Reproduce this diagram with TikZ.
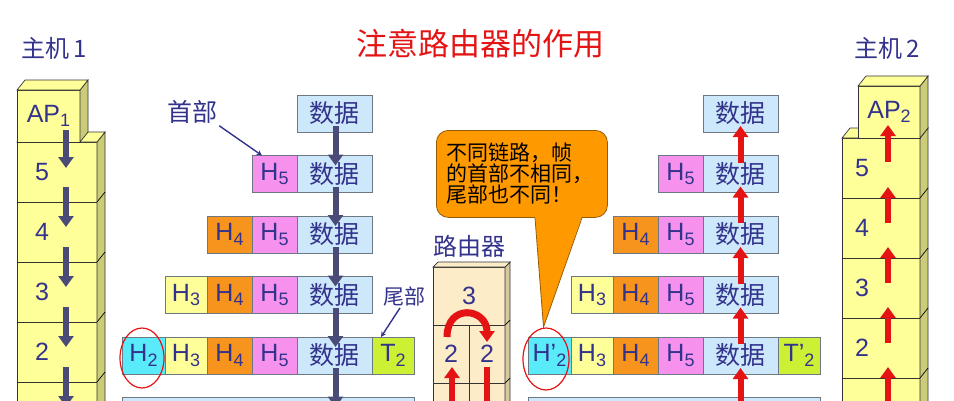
\documentclass[tikz,border=0pt]{standalone}
\usepackage{fontspec}
\setmainfont{Liberation Sans}
\newfontfamily\cjk{Noto Sans CJK SC}
\usetikzlibrary{positioning,arrows.meta}
\definecolor{tcol}{RGB}{51,51,140}
\definecolor{cdata}{RGB}{204,232,250}
\definecolor{cfive}{RGB}{246,146,238}
\definecolor{cfour}{RGB}{247,148,30}
\definecolor{cthree}{RGB}{255,255,153}
\definecolor{ctwo}{RGB}{90,235,250}
\definecolor{ctrail}{RGB}{204,240,51}
\definecolor{fgray}{RGB}{110,120,130}
\definecolor{cyel}{RGB}{255,255,153}
\definecolor{cyelside}{RGB}{204,204,120}
\definecolor{cbeige}{RGB}{253,236,200}
\definecolor{cbeigeside}{RGB}{215,200,160}
\definecolor{corange}{RGB}{255,153,0}
\definecolor{cbrown}{RGB}{150,90,0}
\definecolor{cdark}{RGB}{75,75,120}
\definecolor{cred}{RGB}{228,20,20}
\newcommand\lowsub[1]{\raisebox{-0.35ex}{\scalebox{0.72}{#1}}}

\begin{document}
\begin{tikzpicture}[x=1pt,y=-1pt,
  fld/.style={draw=fgray,line width=0.8pt,inner sep=0pt,outer sep=0pt,minimum height=37pt,text=tcol,font=\fontsize{25}{25}\selectfont},
  dat/.style={fld,fill=cdata,minimum width=75pt,font=\cjk\fontsize{25}{25}\selectfont},
  hfive/.style={fld,fill=cfive,minimum width=45pt},
  hfour/.style={fld,fill=cfour,minimum width=45pt},
  hthree/.style={fld,fill=cthree,minimum width=42pt},
  htwo/.style={fld,fill=ctwo,minimum width=43pt},
  ttwo/.style={fld,fill=ctrail,minimum width=42pt},
  bits/.style={fld,fill=cdata,minimum width=292pt,minimum height=40pt},
  lyr/.style={draw=black!80,line width=0.7pt,fill=cyel,inner sep=0pt,outer sep=0pt,minimum height=60pt,text=tcol,font=\fontsize{25}{25}\selectfont},
  lyrA/.style={lyr,minimum width=80pt},
  lyrB/.style={lyr,minimum width=78pt},
  ysd/.style={draw=black!80,line width=0.7pt,fill=cyelside},
  ytp/.style={draw=black!80,line width=0.7pt,fill=cyel},
  rtr/.style={draw=black!80,line width=0.7pt,fill=cbeige,inner sep=0pt,outer sep=0pt,minimum height=58pt,text=tcol,font=\fontsize{25}{25}\selectfont},
  bsd/.style={draw=black!80,line width=0.7pt,fill=cbeigeside},
  btp/.style={draw=black!80,line width=0.7pt,fill=cbeige},
  num/.style={text=tcol,font=\fontsize{25}{25}\selectfont,inner sep=0pt},
  lbl/.style={text=tcol,font=\cjk\fontsize{24}{24}\selectfont,inner sep=2pt},
  note/.style={draw=cbrown,line width=0.8pt,fill=corange,rounded corners=12pt,text width=151pt,inner xsep=10pt,align=left,minimum height=87pt,font=\cjk\fontsize{21}{21}\selectfont},
  darr/.style={line width=6pt,cdark,-{Triangle[length=11pt,width=15pt]}},
  rarr/.style={line width=6pt,cred,-{Triangle[length=11pt,width=15pt]}},
  ptr/.style={line width=1.4pt,tcol,-stealth},
  ring/.style={draw=cred,line width=1.2pt}]
\clip (0,0) rectangle (954,400);

\node[text=cred,font=\cjk\fontsize{31}{31}\selectfont] (title) at (480,44) {注意路由器的作用};
\node[lbl] (hostA) at (54,48) {主机\,1};
\node[lbl] (hostB) at (887,48) {主机\,2};

% host 1
\node[lyrA,anchor=north west] (hA5) at (17,142) {};
\node[lyrA,below=0pt of hA5] (hA4) {};
\node[lyrA,below=0pt of hA4] (hA3) {};
\node[lyrA,below=0pt of hA3] (hA2) {};
\node[lyrA,below=0pt of hA2] (hA1) {};
\draw[ysd] (hA5.north east) -- ++(8,-10) -- ++(0,300) -- (hA1.south east) -- cycle;
\draw[ytp] (hA5.north west) -- ++(8,-10) -- ++(80,0) -- (hA5.north east) -- cycle;
\draw[line width=0.7pt] (hA5.south east) -- ++(8,-10) (hA4.south east) -- ++(8,-10)
  (hA3.south east) -- ++(8,-10) (hA2.south east) -- ++(8,-10);
\node[lyr,minimum width=63pt,minimum height=52pt,above right=0pt and 0pt of hA5.north west] (apA) {AP\lowsub{1}};
\draw[ysd] (apA.north east) -- ++(8,-10) -- ++(0,52) -- (apA.south east) -- cycle;
\draw[ytp] (apA.north west) -- ++(8,-10) -- ++(63,0) -- (apA.north east) -- cycle;
\node[num] (nA5) at ([shift={(25,0)}]hA5.west) {5};
\node[num] (nA4) at ([shift={(25,0)}]hA4.west) {4};
\node[num] (nA3) at ([shift={(25,0)}]hA3.west) {3};
\node[num] (nA2) at ([shift={(25,0)}]hA2.west) {2};

% host 2
\node[lyrB,anchor=north west] (hB5) at (842,138) {};
\node[lyrB,below=0pt of hB5] (hB4) {};
\node[lyrB,below=0pt of hB4] (hB3) {};
\node[lyrB,below=0pt of hB3] (hB2) {};
\node[lyrB,below=0pt of hB2] (hB1) {};
\draw[ysd] (hB5.north east) -- ++(8,-10) -- ++(0,300) -- (hB1.south east) -- cycle;
\draw[ytp] (hB5.north west) -- ++(8,-10) -- ++(78,0) -- (hB5.north east) -- cycle;
\draw[line width=0.7pt] (hB5.south east) -- ++(8,-10) (hB4.south east) -- ++(8,-10)
  (hB3.south east) -- ++(8,-10) (hB2.south east) -- ++(8,-10);
\node[lyr,minimum width=62pt,minimum height=52pt,above left=0pt and 0pt of hB5.north east] (apB) {AP\lowsub{2}};
\draw[ysd] (apB.north east) -- ++(8,-10) -- ++(0,52) -- (apB.south east) -- cycle;
\draw[ytp] (apB.north west) -- ++(8,-10) -- ++(62,0) -- (apB.north east) -- cycle;
\node[num] (nB5) at ([shift={(20,0)}]hB5.west) {5};
\node[num] (nB4) at ([shift={(20,0)}]hB4.west) {4};
\node[num] (nB3) at ([shift={(20,0)}]hB3.west) {3};
\node[num] (nB2) at ([shift={(20,0)}]hB2.west) {2};

% router
\node[rtr,minimum width=72pt,anchor=north west] (r3) at (433,267) {3};
\node[rtr,minimum width=36pt,below right=0pt and 0pt of r3.south west] (r2l) {2};
\node[rtr,minimum width=36pt,right=0pt of r2l] (r2r) {2};
\node[rtr,minimum width=36pt,minimum height=60pt,below=0pt of r2l] (r1l) {};
\node[rtr,minimum width=36pt,minimum height=60pt,right=0pt of r1l] (r1r) {};
\draw[bsd] (r3.north east) -- ++(5,-5) -- ++(0,180) -- (r1r.south east) -- cycle;
\draw[btp] (r3.north west) -- ++(5,-5) -- ++(72,0) -- (r3.north east) -- cycle;
\draw[line width=0.7pt] (r3.south east) -- ++(5,-5) (r2r.south east) -- ++(5,-5);
\node[lbl,above=7pt of r3] (rlab) {路由器};

% frames, sending side
\node[dat,anchor=north west] (a1d) at (297,95) {数据};
\node[dat,below=23.5pt of a1d] (a2d) {数据};
\node[hfive,left=0pt of a2d] (a2h5) {H\lowsub{5}};
\node[dat,below=23.5pt of a2d] (a3d) {数据};
\node[hfive,left=0pt of a3d] (a3h5) {H\lowsub{5}};
\node[hfour,left=0pt of a3h5] (a3h4) {H\lowsub{4}};
\node[dat,below=23.5pt of a3d] (a4d) {数据};
\node[hfive,left=0pt of a4d] (a4h5) {H\lowsub{5}};
\node[hfour,left=0pt of a4h5] (a4h4) {H\lowsub{4}};
\node[hthree,left=0pt of a4h4] (a4h3) {H\lowsub{3}};
\node[dat,below=23.5pt of a4d] (a5d) {数据};
\node[hfive,left=0pt of a5d] (a5h5) {H\lowsub{5}};
\node[hfour,left=0pt of a5h5] (a5h4) {H\lowsub{4}};
\node[hthree,left=0pt of a5h4] (a5h3) {H\lowsub{3}};
\node[htwo,left=0pt of a5h3] (a5h2) {H\lowsub{2}};
\node[ttwo,right=0pt of a5d] (a5t2) {T\lowsub{2}};
\node[bits,anchor=north west] (a6) at ([shift={(0,23.5)}]a5h2.south west) {};
\coordinate (a6top) at (a5d.south |- a6.north);

% frames, receiving side
\node[dat,anchor=north west] (b1d) at (703,95) {数据};
\node[dat,below=23.5pt of b1d] (b2d) {数据};
\node[hfive,left=0pt of b2d] (b2h5) {H\lowsub{5}};
\node[dat,below=23.5pt of b2d] (b3d) {数据};
\node[hfive,left=0pt of b3d] (b3h5) {H\lowsub{5}};
\node[hfour,left=0pt of b3h5] (b3h4) {H\lowsub{4}};
\node[dat,below=23.5pt of b3d] (b4d) {数据};
\node[hfive,left=0pt of b4d] (b4h5) {H\lowsub{5}};
\node[hfour,left=0pt of b4h5] (b4h4) {H\lowsub{4}};
\node[hthree,left=0pt of b4h4] (b4h3) {H\lowsub{3}};
\node[dat,below=23.5pt of b4d] (b5d) {数据};
\node[hfive,left=0pt of b5d] (b5h5) {H\lowsub{5}};
\node[hfour,left=0pt of b5h5] (b5h4) {H\lowsub{4}};
\node[hthree,left=0pt of b5h4] (b5h3) {H\lowsub{3}};
\node[htwo,left=0pt of b5h3] (b5h2) {H’\lowsub{2}};
\node[ttwo,right=0pt of b5d] (b5t2) {T’\lowsub{2}};
\node[bits,anchor=north west] (b6) at ([shift={(0,23.5)}]b5h2.south west) {};
\coordinate (b6top) at (b5d.south |- b6.north);

% arrows down
\draw[darr] ([shift={(17.5,-12)}]apA.south) -- ([shift={(9,26)}]hA5.north);
\draw[darr] ([shift={(9,-15)}]hA5.south) -- ([shift={(9,25)}]hA4.north);
\draw[darr] ([shift={(9,-15)}]hA4.south) -- ([shift={(9,25)}]hA3.north);
\draw[darr] ([shift={(9,-15)}]hA3.south) -- ([shift={(9,25)}]hA2.north);
\draw[darr] ([shift={(9,-15)}]hA2.south) -- ([shift={(9,25)}]hA1.north);
\draw[darr] ([shift={(1,-6)}]a1d.south) -- ([shift={(1,10)}]a2d.north);
\draw[darr] ([shift={(1,-6)}]a2d.south) -- ([shift={(1,10)}]a3d.north);
\draw[darr] ([shift={(1,-6)}]a3d.south) -- ([shift={(1,10)}]a4d.north);
\draw[darr] ([shift={(1,-6)}]a4d.south) -- ([shift={(1,10)}]a5d.north);
\draw[darr] ([shift={(1,-6)}]a5d.south) -- ([shift={(1,10)}]a6top);

% arrows up
\draw[rarr] ([shift={(7,24)}]hB5.north) -- ([shift={(-1,-13)}]apB.south);
\draw[rarr] ([shift={(7,25)}]hB4.north) -- ([shift={(7,-11)}]hB5.south);
\draw[rarr] ([shift={(7,25)}]hB3.north) -- ([shift={(7,-11)}]hB4.south);
\draw[rarr] ([shift={(7,25)}]hB2.north) -- ([shift={(7,-11)}]hB3.south);
\draw[rarr] ([shift={(7,30)}]hB1.north) -- ([shift={(7,-11)}]hB2.south);
\draw[rarr] ([shift={(0,7)}]b2d.north) -- ([shift={(0,-6)}]b1d.south);
\draw[rarr] ([shift={(0,7)}]b3d.north) -- ([shift={(0,-6)}]b2d.south);
\draw[rarr] ([shift={(0,7)}]b4d.north) -- ([shift={(0,-6)}]b3d.south);
\draw[rarr] ([shift={(0,7)}]b5d.north) -- ([shift={(0,-6)}]b4d.south);
\draw[rarr] ([shift={(0,7)}]b6top) -- ([shift={(0,-6)}]b5d.south);

% inside the router
\draw[rarr,line width=7pt] ([shift={(-4,12)}]r2l.north) .. controls +(0,-34) and +(0,-34) .. ([shift={(0,17)}]r2r.north);
\draw[rarr] ([shift={(1,45)}]r1l.north) -- ([shift={(1,-16)}]r1l.north);
\draw[rarr] ([shift={(0,-16)}]r1r.north) -- ([shift={(0,45)}]r1r.north);

% callout
\node[note,anchor=north west] (note) at (436,130) {不同链路，帧\\的首部不相同，\\尾部也不同！};
\coordinate (tip) at ([shift={(-6,-10)}]b5h2.north);
\fill[corange] ([shift={(99,-1.5)}]note.south west) -- (tip) -- ([shift={(146,-1.5)}]note.south west) -- cycle;
\draw[cbrown,line width=0.8pt] ([shift={(99,0)}]note.south west) -- (tip) -- ([shift={(146,0)}]note.south west);

\draw[ring] ([shift={(-1.5,2.5)}]a5h2.center) ellipse [x radius=22pt,y radius=30pt];
\draw[ring] ([shift={(-3.5,3.5)}]b5h2.center) ellipse [x radius=23pt,y radius=31pt];

% labels
\node[lbl,font=\cjk\fontsize{25}{25}\selectfont] (shoubu) at (192,112) {首部};
\draw[ptr] (shoubu.south east) -- ([shift={(10,0)}]a2h5.north west);
\node[lbl,font=\cjk\fontsize{21}{21}\selectfont] (weibu) at (404,296) {尾部};
\draw[ptr] ([shift={(-4,0)}]weibu.south) -- ([shift={(-12,0)}]a5t2.north);
\end{tikzpicture}
\end{document}
